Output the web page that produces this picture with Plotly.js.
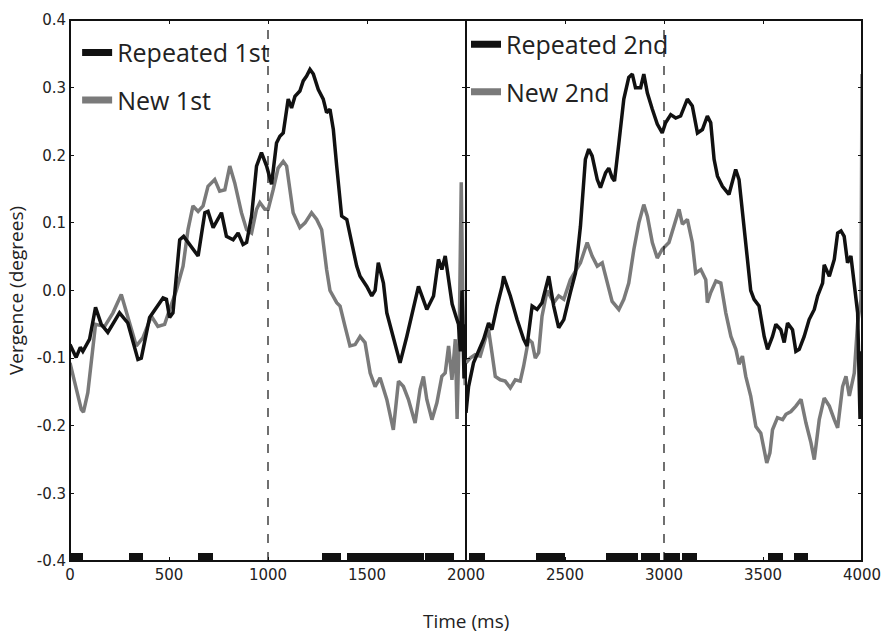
<!DOCTYPE html>
<html>
<head>
<meta charset="utf-8">
<script src="https://cdn.plot.ly/plotly-3.0.1.min.js"></script>
<style>html,body{margin:0;padding:0;background:#fff}#chart{width:883px;height:635px}</style>
</head>
<body>
<div id="chart"></div>
<script>
// ---------- data ----------
const timeRep1 = [0,31,52,65,99,129,158,191,250,292,343,360,402,436,470,487,503,520,534,554,574,605,647,681,697,723,765,790,824,849,874,892,917,942,967,993,1018,1043,1060,1077,1102,1119,1136,1161,1178,1195,1212,1229,1254,1279,1296,1313,1330,1347,1372,1398,1423,1448,1465,1499,1524,1541,1557,1583,1600,1633,1667,1701,1735,1760,1802,1836,1861,1878,1895,1912,1930,1951,1962,1972,1980,1990,1998];
const rep1 = [-0.080,-0.099,-0.084,-0.090,-0.072,-0.025,-0.050,-0.062,-0.033,-0.048,-0.102,-0.100,-0.040,-0.025,-0.011,-0.013,-0.040,-0.033,0.016,0.075,0.080,0.068,0.051,0.115,0.117,0.093,0.115,0.080,0.075,0.085,0.068,0.071,0.110,0.184,0.204,0.184,0.157,0.218,0.228,0.233,0.283,0.270,0.287,0.295,0.310,0.317,0.327,0.320,0.297,0.283,0.263,0.268,0.238,0.184,0.110,0.105,0.071,0.036,0.021,0.006,-0.008,0.000,0.041,0.011,-0.033,-0.072,-0.107,-0.068,-0.023,0.006,-0.028,-0.008,0.046,0.031,0.051,0.016,-0.020,-0.040,-0.050,-0.090,0.000,-0.130,-0.050];

const timeNew1 = [0,31,57,68,90,129,175,217,259,301,335,368,411,444,478,503,537,571,596,621,647,672,697,731,756,782,807,832,866,892,917,942,959,984,1001,1026,1051,1077,1094,1127,1161,1187,1220,1246,1271,1296,1313,1347,1364,1389,1414,1440,1465,1490,1516,1541,1566,1600,1633,1659,1684,1709,1743,1768,1785,1802,1828,1853,1878,1895,1912,1929,1946,1955,1966,1976,1986,1996];
const new1 = [-0.107,-0.146,-0.176,-0.180,-0.151,-0.050,-0.053,-0.033,-0.006,-0.048,-0.082,-0.070,-0.038,-0.053,-0.050,-0.028,0.000,0.036,0.090,0.125,0.117,0.125,0.154,0.164,0.147,0.149,0.184,0.159,0.115,0.090,0.085,0.120,0.130,0.120,0.120,0.149,0.181,0.191,0.184,0.115,0.093,0.100,0.115,0.105,0.090,0.031,0.000,-0.018,-0.023,-0.053,-0.082,-0.080,-0.068,-0.077,-0.122,-0.142,-0.129,-0.161,-0.206,-0.134,-0.142,-0.161,-0.196,-0.146,-0.127,-0.161,-0.191,-0.166,-0.127,-0.122,-0.082,-0.132,-0.072,-0.190,-0.060,0.160,-0.060,-0.140];

const timeRep2 = [2000,2013,2038,2063,2089,2114,2131,2157,2182,2190,2224,2258,2291,2308,2325,2334,2359,2384,2418,2443,2468,2494,2527,2553,2578,2603,2620,2637,2663,2679,2705,2721,2738,2750,2772,2797,2822,2840,2856,2882,2898,2916,2941,2966,2991,3008,3034,3059,3084,3118,3143,3169,3194,3219,3236,3253,3270,3295,3328,3362,3379,3396,3421,3438,3455,3480,3506,3523,3548,3565,3590,3607,3624,3649,3666,3683,3708,3733,3759,3776,3801,3809,3835,3860,3877,3894,3910,3927,3944,3961,3978,3990,4000];
const rep2 = [-0.181,-0.142,-0.107,-0.090,-0.072,-0.048,-0.058,-0.023,0.006,0.021,-0.008,-0.043,-0.072,-0.082,-0.038,-0.023,-0.028,-0.018,0.021,-0.023,-0.055,-0.043,-0.003,0.026,0.095,0.194,0.209,0.199,0.164,0.152,0.174,0.181,0.167,0.162,0.218,0.283,0.315,0.320,0.300,0.300,0.320,0.292,0.268,0.246,0.233,0.248,0.260,0.255,0.258,0.283,0.273,0.233,0.238,0.258,0.248,0.194,0.169,0.154,0.142,0.179,0.164,0.115,0.041,0.000,-0.013,-0.023,-0.068,-0.087,-0.068,-0.050,-0.058,-0.077,-0.048,-0.058,-0.090,-0.087,-0.068,-0.043,-0.028,-0.008,0.011,0.038,0.021,0.046,0.085,0.088,0.080,0.041,0.051,0.006,-0.033,-0.190,-0.090];

const timeNew2 = [2000,2021,2046,2072,2097,2114,2131,2148,2173,2198,2224,2249,2274,2291,2316,2334,2350,2367,2384,2410,2443,2468,2494,2527,2578,2612,2637,2663,2688,2713,2738,2772,2797,2822,2848,2873,2898,2916,2941,2966,2991,3025,3050,3076,3093,3118,3143,3160,3186,3211,3219,3236,3262,3287,3312,3338,3363,3379,3396,3413,3438,3464,3489,3506,3519,3535,3548,3573,3599,3616,3641,3666,3692,3717,3742,3759,3784,3809,3835,3860,3877,3902,3919,3936,3961,3978,3995,4000];
const new2 = [-0.107,-0.100,-0.095,-0.097,-0.072,-0.058,-0.092,-0.127,-0.132,-0.134,-0.144,-0.132,-0.134,-0.112,-0.072,-0.077,-0.100,-0.092,-0.038,0.000,-0.018,-0.008,-0.013,0.016,0.041,0.071,0.051,0.036,0.041,0.011,-0.016,-0.028,-0.013,0.011,0.061,0.100,0.127,0.110,0.071,0.048,0.061,0.071,0.095,0.120,0.098,0.105,0.071,0.026,0.031,0.016,-0.018,-0.003,0.014,0.011,-0.033,-0.068,-0.087,-0.109,-0.097,-0.127,-0.156,-0.201,-0.211,-0.235,-0.255,-0.240,-0.206,-0.188,-0.191,-0.183,-0.179,-0.171,-0.161,-0.196,-0.225,-0.250,-0.191,-0.159,-0.171,-0.191,-0.203,-0.142,-0.127,-0.156,-0.122,-0.048,-0.013,0.320];

// significant intervals (ms) shown as black bars on the bottom
const sigStart1 = [0,296,645,1275,1398,1792];
const sigEnd1   = [68,370,720,1370,1789,1937];
const sigStart2 = [2013,2354,2705,2882,3000,3093,3523,3655];
const sigEnd2   = [2098,2499,2868,2978,3080,3169,3599,3729];

const seriesNames = ['Repeated 1st','New 1st','Repeated 2nd','New 2nd'];
const yTickVals = [-0.4,-0.3,-0.2,-0.1,0.0,0.1,0.2,0.3,0.4];
const yTickText = ['-0.4','-0.3','-0.2','-0.1','0.0','0.1','0.2','0.3','0.4'];
const xTickVals1 = [0,500,1000,1500,2000];
const xTickVals2 = [2500,3000,3500,4000];
const stimulusOnset = [1000,3000];

// ---------- drawing ----------
const BLACK = '#111111', GRAY = '#7a7a7a';
const sigH = 0.012, yMin = -0.4;
function sigBars(starts, ends, xa, ya) {
  return {
    type: 'bar', xaxis: xa, yaxis: ya, showlegend: false, hoverinfo: 'skip',
    x: starts.map((s, i) => (s + ends[i]) / 2),
    width: starts.map((s, i) => ends[i] - s),
    y: starts.map(() => sigH), base: starts.map(() => yMin),
    marker: {color: BLACK, line: {width: 0}}
  };
}
function line(x, y, color, xa, ya) {
  return {type: 'scatter', mode: 'lines', x: x, y: y, xaxis: xa, yaxis: ya,
    line: {color: color, width: 3.5}, showlegend: false, hoverinfo: 'skip'};
}
function legendItem(name, color, xa, ya, lg, grp) {
  return {type: 'scatter', mode: 'lines', x: [null], y: [null], xaxis: xa, yaxis: ya,
    name: name, legend: lg, legendgroup: grp, line: {color: color, width: 7}, showlegend: true};
}

const traces = [
  sigBars(sigStart1, sigEnd1, 'x', 'y'),
  sigBars(sigStart2, sigEnd2, 'x2', 'y2'),
  line(timeNew1, new1, GRAY, 'x', 'y'),
  line(timeRep1, rep1, BLACK, 'x', 'y'),
  line(timeNew2, new2, GRAY, 'x2', 'y2'),
  line(timeRep2, rep2, BLACK, 'x2', 'y2'),
  legendItem(seriesNames[0], BLACK, 'x', 'y', 'legend', 'a'),
  legendItem(seriesNames[1], GRAY, 'x', 'y', 'legend', 'b'),
  legendItem(seriesNames[2], BLACK, 'x2', 'y2', 'legend2', 'c'),
  legendItem(seriesNames[3], GRAY, 'x2', 'y2', 'legend2', 'd')
];

const tickFont = {family: 'DejaVu Sans', size: 15, color: '#222'};
const axBase = {showgrid: false, zeroline: false, showline: true, linecolor: '#111', linewidth: 1,
  mirror: 'ticks', ticks: 'inside', ticklen: 4, tickcolor: '#111', tickwidth: 1, tickfont: tickFont};
const legendBase = {font: {family: 'Open Sans', size: 25, color: '#222'}, bgcolor: 'rgba(0,0,0,0)',
  traceorder: 'grouped', tracegroupgap: 12, itemwidth: 30, xanchor: 'left', yanchor: 'top'};

const layout = {
  width: 883, height: 635,
  margin: {l: 70, r: 21, t: 20, b: 74},
  paper_bgcolor: '#fff', plot_bgcolor: '#fff',
  bargap: 0, barmode: 'overlay',
  showlegend: true,
  xaxis: Object.assign({}, axBase, {domain: [0, 0.5], range: [0, 2000], tickvals: xTickVals1, anchor: 'y'}),
  xaxis2: Object.assign({}, axBase, {domain: [0.5, 1], range: [2000, 4000], tickvals: xTickVals2, anchor: 'y2'}),
  yaxis: Object.assign({}, axBase, {range: [-0.4, 0.4], tickvals: yTickVals, ticktext: yTickText, anchor: 'x',
    title: {text: 'Vergence (degrees)', font: {family: 'Open Sans', size: 19, color: '#222'}, standoff: 8}}),
  yaxis2: Object.assign({}, axBase, {range: [-0.4, 0.4], tickvals: yTickVals, showticklabels: false, anchor: 'x2'}),
  legend: Object.assign({}, legendBase, {x: 0.009, y: 0.982}),
  legend2: Object.assign({}, legendBase, {x: 0.5, y: 0.997}),
  annotations: [{text: 'Time (ms)', xref: 'paper', yref: 'paper', x: 0.5, y: -0.083, xanchor: 'center', yanchor: 'top',
    showarrow: false, font: {family: 'Open Sans', size: 19, color: '#222'}}],
  shapes: [
    {type: 'rect', xref: 'paper', yref: 'paper', x0: 0, x1: 1, y0: 0, y1: 1, line: {color: '#111', width: 2}, fillcolor: 'rgba(0,0,0,0)'},
    {type: 'line', xref: 'x', yref: 'paper', x0: stimulusOnset[0], x1: stimulusOnset[0], y0: 0, y1: 1, line: {color: '#111', width: 1.2, dash: 'dash'}},
    {type: 'line', xref: 'x2', yref: 'paper', x0: stimulusOnset[1], x1: stimulusOnset[1], y0: 0, y1: 1, line: {color: '#111', width: 1.2, dash: 'dash'}}
  ]
};

Plotly.newPlot('chart', traces, layout, {displayModeBar: false, staticPlot: true});
</script>
</body>
</html>
